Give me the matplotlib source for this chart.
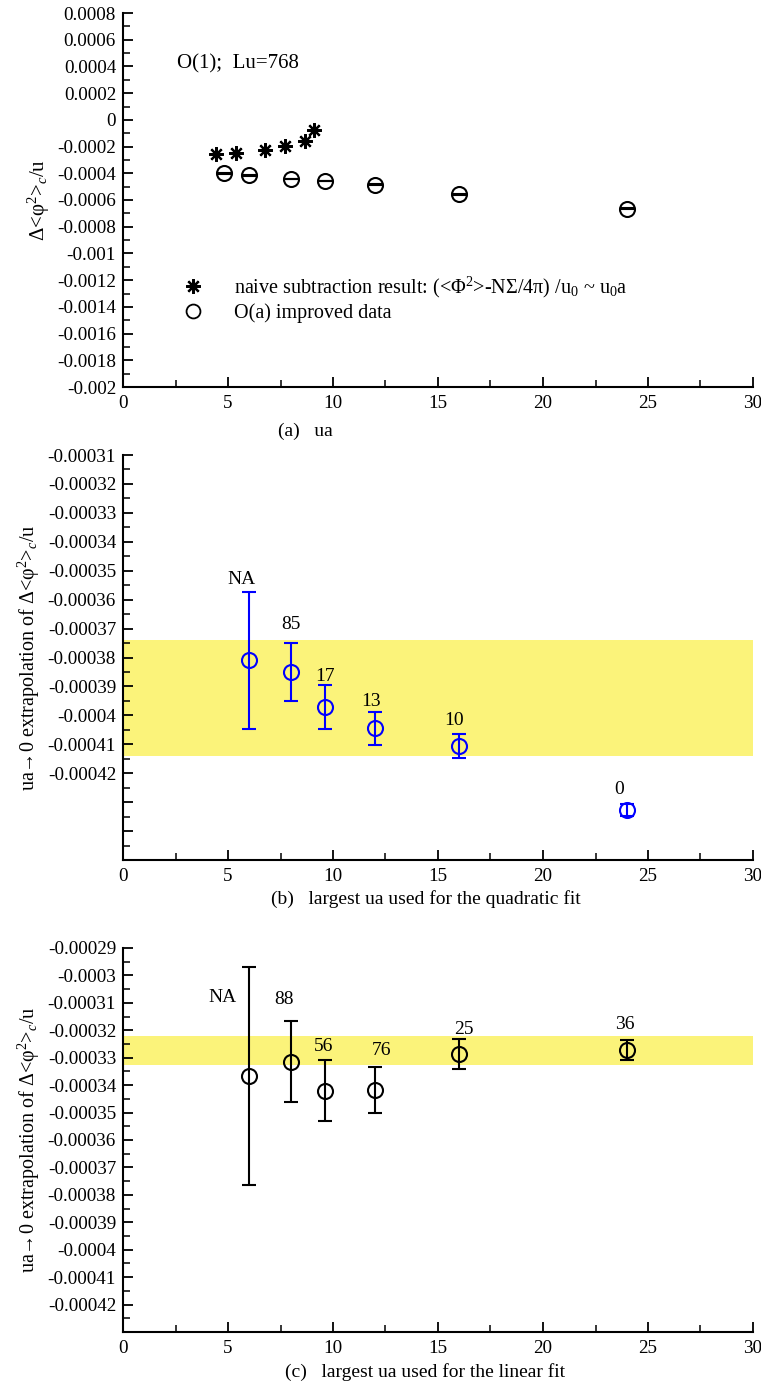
#!/usr/bin/env python3
"""Three-panel O(1) extrapolation figure, Lu=768."""

import matplotlib

matplotlib.use("Agg")
import matplotlib.pyplot as plt
from matplotlib.ticker import MultipleLocator, FuncFormatter

plt.rcParams.update(
    {
        "font.family": ["Liberation Serif", "DejaVu Serif"],
        "mathtext.fontset": "custom",
        "mathtext.rm": "Liberation Serif",
        "mathtext.it": "Liberation Serif:italic",
        "font.size": 13.8,
        "axes.linewidth": 1.5,
        "axes.spines.top": False,
        "axes.spines.right": False,
        "xtick.direction": "in",
        "ytick.direction": "in",
        "xtick.major.size": 7,
        "ytick.major.size": 7,
        "xtick.minor.size": 5,
        "ytick.minor.size": 5,
        "xtick.major.width": 1.3,
        "ytick.major.width": 1.3,
        "xtick.minor.width": 1.1,
        "ytick.minor.width": 1.1,
        "xtick.major.pad": 6,
        "ytick.major.pad": 5,
    }
)

# ---- panel (a) data ----
ua_naive = [4.44, 5.40, 6.78, 7.70, 8.68, 9.10]
phi_naive = [-0.000258, -0.000245, -0.000227, -0.000195, -0.000155, -0.000075]
ua_imp = [4.8, 6.0, 8.0, 9.6, 12.0, 16.0, 24.0]
phi_imp = [-0.000400, -0.000415, -0.000442, -0.000457, -0.000485, -0.000557, -0.000664]
err_imp = [0.000002] * 7

# ---- panel (b) data: quadratic fit ----
ua_quad = [6.0, 8.0, 9.6, 12.0, 16.0, 24.0]
val_quad = [-0.000381, -0.000385, -0.000397, -0.0004045, -0.0004106, -0.0004327]
err_quad = [0.0000237, 0.0000099, 0.0000076, 0.0000057, 0.000004, 0.0000022]
lab_quad = ["NA", "85", "17", "13", "10", "0"]
band_quad = (-0.000414, -0.000374)

# ---- panel (c) data: linear fit ----
ua_lin = [6.0, 8.0, 9.6, 12.0, 16.0, 24.0]
val_lin = [-0.0003367, -0.0003314, -0.0003421, -0.0003418, -0.0003287, -0.0003273]
err_lin = [0.0000398, 0.0000149, 0.0000111, 0.0000085, 0.0000055, 0.0000036]
lab_lin = ["NA", "88", "56", "76", "25", "36"]
band_lin = (-0.0003327, -0.000322)

W, H = 761, 1391


def axes_px(top, bottom, left=123, right=753):
    return [left / W, 1 - bottom / H, (right - left) / W, (bottom - top) / H]


def fmt_factory(lowest):
    def fmt(v, pos):
        if v < lowest - 1e-9:
            return ""
        s = ("%.5f" % v).rstrip("0").rstrip(".")
        return "0" if s in ("-0", "0", "") else s

    return FuncFormatter(fmt)


def style_x(ax, label, xpos, ypos):
    ax.set_xlim(0, 30)
    ax.xaxis.set_major_locator(MultipleLocator(5))
    ax.xaxis.set_minor_locator(MultipleLocator(2.5))
    ax.set_xlabel(label, fontsize=14)
    ax.xaxis.set_label_coords(xpos, ypos)


def style_y(ax, lo, hi, major, minor, last_label, label, size=14.5):
    ax.set_ylim(lo, hi)
    ax.yaxis.set_major_locator(MultipleLocator(major))
    ax.yaxis.set_minor_locator(MultipleLocator(minor))
    ax.yaxis.set_major_formatter(fmt_factory(last_label))
    ax.set_ylabel(label, fontsize=size, labelpad=4)


ylab_ext = "ua→0 extrapolation of Δ<φ$^2$>$_c$/u"
err_kw = dict(fmt="o", ms=10.8, mfc="none", mew=1.5, elinewidth=1.5,
              capsize=4.7, capthick=1.5)

fig = plt.figure(figsize=(W / 100, H / 100), dpi=100)

# Panel (a)
ax = fig.add_axes(axes_px(13, 387))
ax.plot(ua_naive, phi_naive, linestyle="none", marker=(8, 2, 0), ms=10.5,
        mew=1.6, color="black", label="naive subtraction result: "
        "(<Φ$^2$>-NΣ/4π) /u$_0$ ~ u$_0$a")
ax.errorbar(ua_imp, phi_imp, yerr=err_imp, mec="black", ecolor="black",
            **{**err_kw, "capsize": 5.4})
ax.plot([], [], "o", ms=10, mfc="none", mec="black", mew=1.3,
        label="O(a) improved data")
style_y(ax, -0.002, 0.0008, 0.0002, 0.0001, -0.002, "Δ<φ$^2$>$_c$/u", size=15)
style_x(ax, "(a)   ua", 0.29, -0.095)
ax.text(0.085, 0.865, "O(1);  Lu=768", transform=ax.transAxes, fontsize=15,
        va="center")
ax.legend(loc="upper left", bbox_to_anchor=(0.0952, 0.300), frameon=False,
          borderpad=0, borderaxespad=0, handlelength=1.0, handletextpad=1.55,
          labelspacing=0.15, fontsize=14.5)

# Panel (b)
ax = fig.add_axes(axes_px(455, 860))
ax.axhspan(*band_quad, facecolor="#fbf37a", edgecolor="none", zorder=0)
ax.errorbar(ua_quad, val_quad, yerr=err_quad, mec="#0000ff", ecolor="#0000ff",
            **err_kw)
offs_b = [(-7, 81), (0, 47), (0, 30), (-4, 27), (-5, 26), (-8, 20)]
for x, y, t, (dx, dy) in zip(ua_quad, val_quad, lab_quad, offs_b):
    ax.annotate(t, (x, y), xytext=(dx, dy), textcoords="offset pixels",
                ha="center", va="center", fontsize=14)
style_y(ax, -0.00045, -0.00031, 0.00001, 0.000005, -0.00042, ylab_ext)
style_x(ax, "(b)   largest ua used for the quadratic fit", 0.48, -0.075)

# Panel (c)
ax = fig.add_axes(axes_px(948, 1332))
ax.axhspan(*band_lin, facecolor="#fbf37a", edgecolor="none", zorder=0)
ax.errorbar(ua_lin, val_lin, yerr=err_lin, mec="black", ecolor="black", **err_kw)
offs_c = [(-26, 79), (-7, 62), (-1, 44), (7, 40), (5, 25), (-2, 26)]
for x, y, t, (dx, dy) in zip(ua_lin, val_lin, lab_lin, offs_c):
    ax.annotate(t, (x, y), xytext=(dx, dy), textcoords="offset pixels",
                ha="center", va="center", fontsize=14)
style_y(ax, -0.00043, -0.00029, 0.00001, 0.000005, -0.00042, ylab_ext)
style_x(ax, "(c)   largest ua used for the linear fit", 0.48, -0.08)

plt.savefig("out.png", dpi=100, facecolor="white")
plt.close(fig)
